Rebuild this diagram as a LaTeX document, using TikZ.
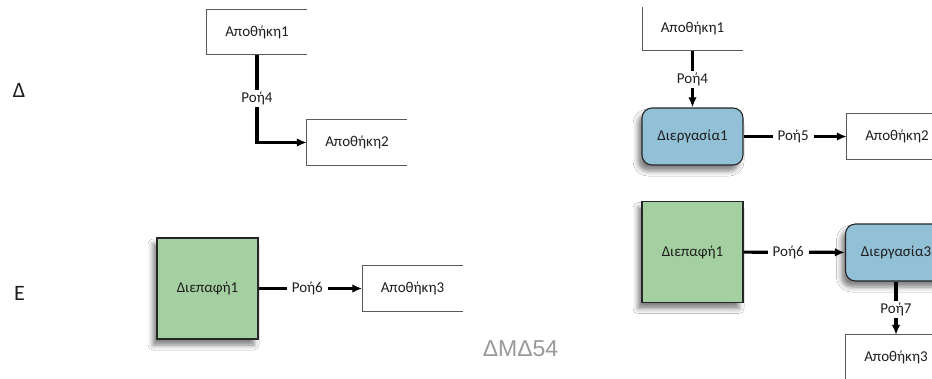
\documentclass[tikz,border=0pt]{standalone}
\usepackage{fontspec}
\setmainfont{Carlito}
\newfontfamily\arialfont{Liberation Sans}
\usetikzlibrary{arrows.meta,shadows.blur}
\definecolor{ifgreen}{RGB}{164,207,160}
\definecolor{prblue}{RGB}{146,192,214}
\definecolor{boxline}{RGB}{90,90,90}
\definecolor{txt}{RGB}{30,30,30}
\begin{document}
\begin{tikzpicture}[x=1pt,y=-1pt,
  every node/.style={text=txt, font=\fontsize{15}{17}\selectfont},
  store/.style={minimum width=100pt,minimum height=45pt,inner sep=0pt},
  storeline/.style={draw=boxline,line width=1pt},
  shad/.style={blur shadow={shadow xshift=-4pt,shadow yshift=-6pt,shadow blur radius=5pt,shadow opacity=50}},
  iface/.style={draw=black!85,line width=1.1pt,fill=ifgreen,minimum width=101pt,minimum height=101pt,inner sep=0pt,shad},
  proc/.style={draw=black!85,line width=1.1pt,fill=prblue,rounded corners=10pt,minimum width=101pt,minimum height=57pt,inner sep=0pt,shad},
  flow/.style={line width=3.2pt,-{Latex[length=10pt,width=8.5pt]}},
  lbl/.style={fill=white,inner xsep=5pt,inner ysep=2pt}
]
\useasboundingbox (0,0) rectangle (932,378);
\clip (0,0) rectangle (932,378);
\fill[white] (0,0) rectangle (932,378);

% row letters and watermark
\node[font=\fontsize{22}{25}\selectfont] (lD) at (19,90) {Δ};
\node[font=\fontsize{22}{25}\selectfont] (lE) at (19.5,293.5) {Ε};
\node[font=\arialfont\fontsize{23}{26}\selectfont, text=black!40] (wm) at (520.5,349) {ΔΜΔ54};

% left panel
\node[store] (Ls1) at (257,32) {Αποθήκη1};
\node[store] (Ls2) at (357,142.5) {Αποθήκη2};
\node[iface] (Lif) at (207.5,288.5) {Διεπαφή1};
\node[store] (Ls3) at (412.5,288.5) {Αποθήκη3};
\draw[storeline] (Ls1.north east) -- (Ls1.north west) -- (Ls1.south west) -- (Ls1.south east);
\draw[storeline] (Ls2.north east) -- (Ls2.north west) -- (Ls2.south west) -- (Ls2.south east);
\draw[storeline] (Ls3.north east) -- (Ls3.north west) -- (Ls3.south west) -- (Ls3.south east);
\draw[flow] (Ls1) |- node[lbl,pos=0.25] (Lr4) {Ροή4} (Ls2);
\draw[flow] (Lif) -- node[lbl,pos=0.47] (Lr6) {Ροή6} (Ls3);

% right panel
\node[store] (Rs1) at (692.5,28) {Αποθήκη1};
\node[proc] (Rp1) at (692.5,136.5) {Διεργασία1};
\node[store] (Rs2) at (897,136.5) {Αποθήκη2};
\node[iface] (Rif) at (692.5,252) {Διεπαφή1};
\node[proc] (Rp3) at (896,252.5) {Διεργασία3};
\node[store] (Rs3) at (896,357.5) {Αποθήκη3};
\draw[storeline] ([yshift=-2pt]Rs1.north west) -- (Rs1.south west) -- (Rs1.south east);
\draw[storeline] (Rs2.north east) -- (Rs2.north west) -- (Rs2.south west) -- (Rs2.south east);
\draw[storeline] (Rs3.north east) -- (Rs3.north west) -- (Rs3.south west) -- (Rs3.south east);
\draw[flow] (Rs1) -- node[lbl] (Rr4) {Ροή4} (Rp1);
\draw[flow] (Rp1) -- node[lbl,pos=0.48] (Rr5) {Ροή5} (Rs2);
\draw[flow] (Rif) -- node[lbl,pos=0.44] (Rr6) {Ροή6} (Rp3);
\draw[flow] (Rp3) -- node[lbl,pos=0.53] (Rr7) {Ροή7} (Rs3);
\end{tikzpicture}
\end{document}
